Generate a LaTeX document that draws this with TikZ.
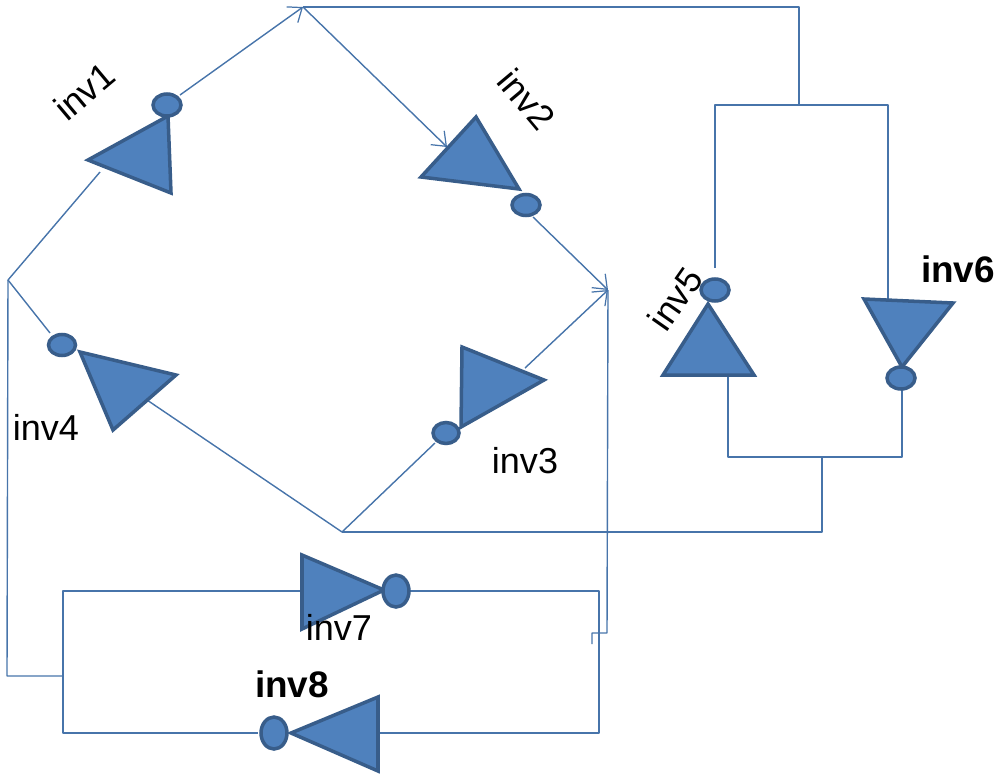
\documentclass[tikz,border=0pt]{standalone}
\usepackage{fontspec}
\setmainfont{Liberation Sans}
\usetikzlibrary{shapes.geometric,arrows.meta}
\definecolor{fillblue}{HTML}{4F81BD}
\definecolor{edgeblue}{HTML}{385D8A}
\tikzset{
  x=0.02cm,y=-0.02cm,
  wire/.style={draw=fillblue!90!black,line width=0.8pt,line join=round},
  wirearrow/.style={wire,-{Straight Barb[length=7pt,width=11pt,line width=0.7pt]}},
  gate/.style={draw=edgeblue,fill=fillblue,line width=2pt,line join=miter},
  bubble/.style={ellipse,draw=edgeblue,fill=fillblue,line width=2pt,inner sep=0pt,outer sep=0pt,minimum width=#1},
  lbl/.style={text=black,font=\fontsize{20.5}{22}\selectfont,inner sep=0pt},
  lblb/.style={lbl,font=\fontsize{21}{22}\selectfont\bfseries}
}
\begin{document}
\begin{tikzpicture}
\useasboundingbox (0,0) rectangle (1000,778);
% junctions
\coordinate (top) at (303,7);
\coordinate (left) at (8,280);
\coordinate (right) at (608,290);
\coordinate (bot) at (342,532);
\coordinate (tr) at (799,7);
\coordinate (tj) at (799,105);
\coordinate (tl5) at (715,105);
\coordinate (tr6) at (888,105);
\coordinate (bj) at (822,457);
\coordinate (bc) at (822,532);
\coordinate (bl5) at (728,457);
\coordinate (br6) at (902,457);
\coordinate (ll) at (7,676);
\coordinate (l7) at (63,676);
\coordinate (a7) at (63,591);
\coordinate (a8) at (63,733);
\coordinate (c7) at (599,591);
\coordinate (c8) at (599,733);
\coordinate (rd) at (607,633);
\coordinate (rs) at (592,633);
\coordinate (re) at (592,644);
% pins
\coordinate (i1in) at (100,172);
\coordinate (i1out) at (180,95);
\coordinate (i2in) at (447,147);
\coordinate (i2out) at (533,217);
\coordinate (i3in) at (525,368);
\coordinate (i3out) at (435,443);
\coordinate (i4in) at (147,400);
\coordinate (i4out) at (50,333);
\coordinate (i5in) at (728,376);
\coordinate (i5out) at (715,268);
\coordinate (i6in) at (888,299);
\coordinate (i6out) at (902,390);
\coordinate (i7in) at (301,591);
\coordinate (i7out) at (410,591);
\coordinate (i8in) at (379,733);
\coordinate (i8out) at (258,733);
% wires
\draw[wire] (left) -- (i1in);
\draw[wirearrow] (i1out) -- (top);
\draw[wirearrow] (top) -- (i2in);
\draw[wirearrow] (i2out) -- (right);
\draw[wirearrow] (i3in) -- (right);
\draw[wire] (bot) -- (i3out);
\draw[wire] (bot) -- (i4in);
\draw[wire] (i4out) -- (left);
\draw[wire] (top) -- (tr) -- (tj);
\draw[wire] (i5out) -- (tl5) -- (tr6) -- (i6in);
\draw[wire] (i5in) -- (bl5) -- (br6) -- (i6out);
\draw[wire] (bot) -- (bc) -- (bj);
\draw[wire] (left) -- (ll) -- (l7);
\draw[wire] (i7in) -- (a7) -- (a8) -- (i8out);
\draw[wire] (i7out) -- (c7) -- (c8) -- (i8in);
\draw[wire] (right) -- (rd) -- (rs) -- (re);
% inverters
\draw[gate] (88,160) -- (168,116) -- (171,193) -- cycle;
\node[bubble=0.56cm,minimum height=0.44cm] (b1) at (167,105) {};
\draw[gate] (421,177) -- (476,117) -- (519,189) -- cycle;
\node[bubble=0.56cm,minimum height=0.42cm] (b2) at (526,205) {};
\draw[gate] (462,347) -- (544,380) -- (461,427) -- cycle;
\node[bubble=0.52cm,minimum height=0.42cm] (b3) at (446,433) {};
\draw[gate] (80,352) -- (176,375) -- (113,430) -- cycle;
\node[bubble=0.54cm,minimum height=0.42cm] (b4) at (62,345) {};
\draw[gate] (708,304) -- (754,375) -- (663,375) -- cycle;
\node[bubble=0.56cm,minimum height=0.44cm] (b5) at (715,290) {};
\draw[gate] (864,299) -- (953,303) -- (902,367) -- cycle;
\node[bubble=0.56cm,minimum height=0.44cm] (b6) at (901,378) {};
\draw[gate] (302,555) -- (384,590) -- (302,629) -- cycle;
\node[bubble=0.52cm,minimum height=0.64cm] (b7) at (396,591) {};
\draw[gate] (378,697) -- (378,771) -- (291,733) -- cycle;
\node[bubble=0.52cm,minimum height=0.64cm] (b8) at (274,733) {};
% labels
\node[lbl,rotate=40] (t1) at (84,91) {inv1};
\node[lbl,rotate=-50] (t2) at (527,99) {inv2};
\node[lbl] (t3) at (525,461) {inv3};
\node[lbl] (t4) at (46,427) {inv4};
\node[lbl,rotate=55] (t5) at (675,299) {inv5};
\node[lblb] (t6) at (958,269) {inv6};
\node[lbl] (t7) at (339,627) {inv7};
\node[lblb] (t8) at (292,684) {inv8};
\end{tikzpicture}
\end{document}
